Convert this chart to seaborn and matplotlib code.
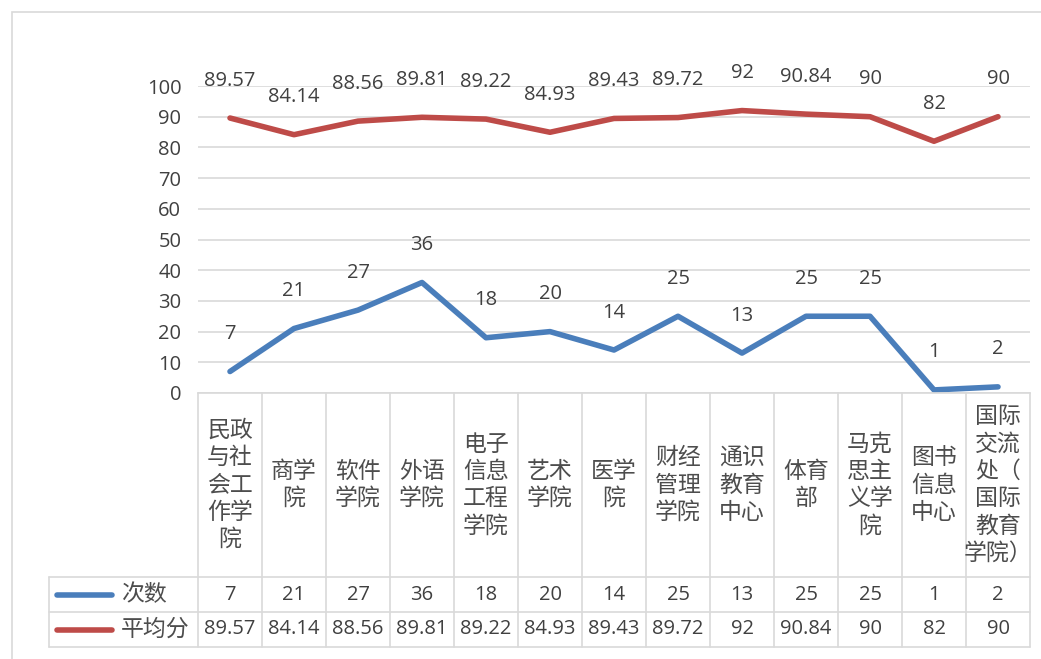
import textwrap
import matplotlib
matplotlib.use("Agg")
import matplotlib.pyplot as plt
import seaborn as sns
import pandas as pd
from matplotlib.patches import Rectangle

categories = ["民政与社会工作学院", "商学院", "软件学院", "外语学院", "电子信息工程学院",
              "艺术学院", "医学院", "财经管理学院", "通识教育中心", "体育部",
              "马克思主义学院", "图书信息中心", "国际交流处（国际教育学院）"]
counts = [7, 21, 27, 36, 18, 20, 14, 25, 13, 25, 25, 1, 2]
avg_scores = [89.57, 84.14, 88.56, 89.81, 89.22, 84.93, 89.43, 89.72, 92, 90.84, 90, 82, 90]
count_labels = ["7", "21", "27", "36", "18", "20", "14", "25", "13", "25", "25", "1", "2"]
avg_labels = ["89.57", "84.14", "88.56", "89.81", "89.22", "84.93", "89.43", "89.72",
              "92", "90.84", "90", "82", "90"]
series_names = ["次数", "平均分"]
yticks = [0, 10, 20, 30, 40, 50, 60, 70, 80, 90, 100]

sns.set_theme(style="white")
plt.rcParams['font.family'] = ['Open Sans', 'Noto Sans CJK SC', 'DejaVu Sans']
CJK = ['Noto Sans CJK SC', 'DejaVu Sans']

BLUE = "#4a7ebb"
RED = "#be4b48"
TXT = "#404040"
CJK_TXT = "#4d4d4d"
GRID = "#d9d9d9"
NUM_FS = 14.5
CJK_FS = 16.5

W, H = 1041, 659
fig = plt.figure(figsize=(W / 100, H / 100), dpi=100)

def fx(px):
    return px / W

def fy(py):
    return 1 - py / H

# outer chart border
fig.patches.append(Rectangle((fx(12), fy(700)), fx(1100), fy(12) - fy(700),
                             transform=fig.transFigure, fill=False,
                             edgecolor=GRID, linewidth=1.2, zorder=0))

L, R, T, B = 198, 1030, 86, 393
ax = fig.add_axes([fx(L), fy(B), fx(R) - fx(L), fy(T) - fy(B)])

df = pd.DataFrame({
    "x": list(range(len(categories))) * 2,
    "value": counts + avg_scores,
    "series": [series_names[0]] * len(categories) + [series_names[1]] * len(categories),
})
sns.lineplot(data=df, x="x", y="value", hue="series",
             palette={series_names[0]: BLUE, series_names[1]: RED},
             linewidth=4.0, legend=False, ax=ax, solid_capstyle="round")

ax.set_xlim(-0.5, len(categories) - 0.5)
ax.set_ylim(0, 100)
ax.set_yticks(yticks)
ax.set_yticklabels([str(v) for v in yticks], fontsize=NUM_FS, color=TXT)
ax.tick_params(axis="y", length=0, pad=12)
ax.set_xticks([])
ax.set_xlabel("")
ax.set_ylabel("")
for s in ["top", "right", "left"]:
    ax.spines[s].set_visible(False)
ax.spines["bottom"].set_color(GRID)
ax.spines["bottom"].set_linewidth(1.2)
ax.grid(axis="y", color=GRID, linewidth=1.2)
ax.set_axisbelow(True)

for i, (c, a) in enumerate(zip(counts, avg_scores)):
    ax.annotate(count_labels[i], (i, c), xytext=(0, 27), textcoords="offset points",
                ha="center", va="center", fontsize=NUM_FS, color=TXT)
    ax.annotate(avg_labels[i], (i, a), xytext=(0, 27), textcoords="offset points",
                ha="center", va="center", fontsize=NUM_FS, color=TXT)

# data table
TL, TB = 49, 647
ROW1, ROW2 = 577, 612
n = len(categories)
colw = (R - L) / n
xl = -0.5 - (L - TL) / colw
tax = fig.add_axes([fx(TL), fy(TB), fx(R) - fx(TL), fy(B) - fy(TB)])
tax.set_xlim(xl, n - 0.5)
tax.set_ylim(TB, B)
tax.axis("off")

lw = 1.2
for k in range(n + 1):
    xb = -0.5 + k
    tax.plot([xb, xb], [B, TB], color=GRID, lw=lw, clip_on=False)
tax.plot([xl, xl], [ROW1, TB], color=GRID, lw=lw, clip_on=False)
for yy in [ROW1, ROW2, TB]:
    tax.plot([xl, n - 0.5], [yy, yy], color=GRID, lw=lw, clip_on=False)

def wrap_label(s):
    parts = textwrap.wrap(s, 2)
    if len(parts) > 1 and parts[-1] in ("）",):
        parts[-2] += parts[-1]
        parts = parts[:-1]
    return "\n".join(parts)

for i, cat in enumerate(categories):
    tax.text(i, (B + ROW1) / 2, wrap_label(cat), ha="center", va="center",
             fontsize=CJK_FS, color=CJK_TXT, linespacing=1.24, family=CJK,
             fontweight="light")
    tax.text(i, (ROW1 + ROW2) / 2, count_labels[i], ha="center", va="center",
             fontsize=NUM_FS, color=TXT)
    tax.text(i, (ROW2 + TB) / 2, avg_labels[i], ha="center", va="center",
             fontsize=NUM_FS, color=TXT)

# legend keys in table
key_x0 = xl + (57 - TL) / colw
key_x1 = xl + (112 - TL) / colw
txt_x = xl + (121 - TL) / colw
for name, color, yc in [(series_names[0], BLUE, (ROW1 + ROW2) / 2),
                        (series_names[1], RED, (ROW2 + TB) / 2)]:
    tax.plot([key_x0, key_x1], [yc, yc], color=color, lw=4.0, solid_capstyle="round")
    tax.text(txt_x, yc, name, ha="left", va="center", fontsize=CJK_FS, color=CJK_TXT,
             family=CJK, fontweight="light")

fig.savefig("out.png", dpi=100)
